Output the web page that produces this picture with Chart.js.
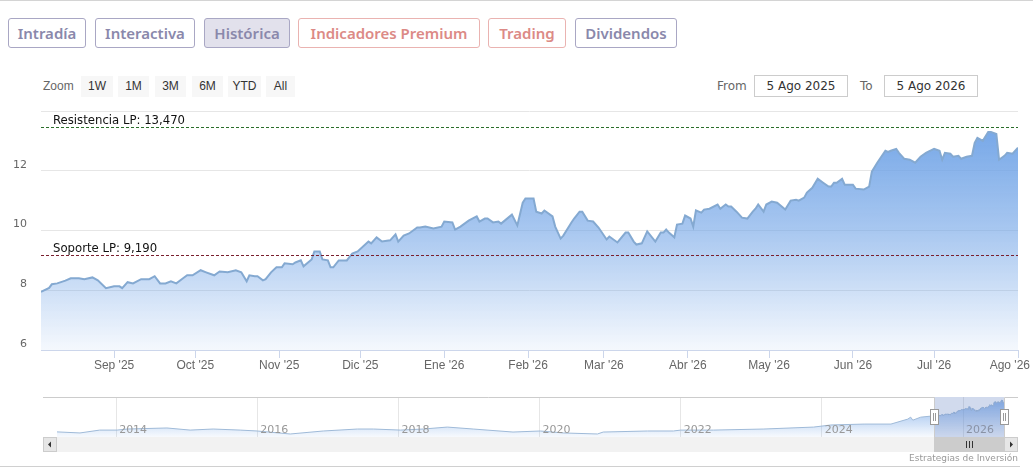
<!DOCTYPE html>
<html>
<head>
<meta charset="utf-8">
<script src="https://cdn.jsdelivr.net/npm/chart.js@4.4.1/dist/chart.umd.min.js"></script>
<style>
  html, body { margin: 0; padding: 0; background: #fff; }
  body { width: 1033px; height: 472px; position: relative; overflow: hidden; font-family: "DejaVu Sans", sans-serif; }
  .topline { position: absolute; left: 0; top: 0; width: 1033px; height: 1px; background: #d4d4d4; }
  .tab { position: absolute; top: 18px; height: 30px; box-sizing: border-box; border: 1px solid #a9a7c4; border-radius: 3px;
         font-family: "Noto Sans", sans-serif; font-weight: 600; font-size: 15px; line-height: 28px; text-align: center; color: #8a88ab; }
  .tab.red { color: #dc8a86; border-color: #eab3b1; }
  .tab.on { background: #e2e1ec; }
  .zlabel { position: absolute; left: 43px; top: 79px; font: 12px "Liberation Sans", sans-serif; color: #666; }
  .zbtn { position: absolute; top: 76px; height: 21px; background: #f7f7f7; font: 12px "Liberation Sans", sans-serif; color: #333; line-height: 21px; text-align: center; }
  .rlabel { position: absolute; top: 79px; font: 12px "DejaVu Sans", sans-serif; color: #666; }
  .rbox { position: absolute; top: 75px; width: 94px; height: 22px; box-sizing: border-box; border: 1px solid #ccc; font: 12px "DejaVu Sans", sans-serif; color: #333; line-height: 20px; text-align: center; }
  #main { position: absolute; left: 0; top: 100px; }
  #nav { position: absolute; left: 0; top: 390px; }
  .credit { position: absolute; right: 15px; top: 453px; font: 9px "DejaVu Sans", sans-serif; color: #999; }
  .bottomline { position: absolute; left: 0; top: 466px; width: 1020px; height: 1px; background: #d0d0d0; }
</style>
</head>
<body>
<div class="topline"></div>
<div class="tab" style="left:8px;width:78px">Intradía</div>
<div class="tab" style="left:95px;width:100px">Interactiva</div>
<div class="tab on" style="left:204px;width:86px">Histórica</div>
<div class="tab red" style="left:298px;width:182px">Indicadores Premium</div>
<div class="tab red" style="left:488px;width:78px">Trading</div>
<div class="tab" style="left:575px;width:102px">Dividendos</div>

<div class="zlabel">Zoom</div>
<div class="zbtn" style="left:81px;width:32px">1W</div>
<div class="zbtn" style="left:118px;width:31px">1M</div>
<div class="zbtn" style="left:155px;width:31px">3M</div>
<div class="zbtn" style="left:192px;width:31px">6M</div>
<div class="zbtn" style="left:228px;width:33px">YTD</div>
<div class="zbtn" style="left:266px;width:29px">All</div>

<div class="rlabel" style="left:717px">From</div>
<div class="rbox" style="left:754px">5 Ago 2025</div>
<div class="rlabel" style="left:860px">To</div>
<div class="rbox" style="left:884px">5 Ago 2026</div>

<canvas id="main" width="1033" height="280"></canvas>
<canvas id="nav" width="1033" height="82"></canvas>
<div class="credit">Estrategias de Inversión</div>
<div class="bottomline"></div>

<script>
// ---- datos ----
const monthNames = ['Ene', 'Feb', 'Mar', 'Abr', 'May', 'Jun', 'Jul', 'Ago', 'Sep', 'Oct', 'Nov', 'Dic'];
const xTickDates = ['2025-09-01', '2025-10-01', '2025-11-01', '2025-12-01', '2026-01-01', '2026-02-01',
                    '2026-03-01', '2026-04-01', '2026-05-01', '2026-06-01', '2026-07-01', '2026-08-01'];
const yTicks = [6, 8, 10, 12, 14];
const yLabels = ['6', '8', '10', '12', ''];
const rangeFrom = '2025-08-05';
const rangeTo = '2026-08-01';

const levelValues = [13.47, 9.19];
const levelLabels = ['Resistencia LP: 13,470', 'Soporte LP: 9,190'];

const mainDates = [
  '2025-08-05','2025-08-08','2025-08-09','2025-08-11','2025-08-14','2025-08-16','2025-08-19','2025-08-21','2025-08-24','2025-08-26',
  '2025-08-29','2025-09-01','2025-09-03','2025-09-04','2025-09-06','2025-09-08','2025-09-11','2025-09-14','2025-09-16','2025-09-18',
  '2025-09-20','2025-09-22','2025-09-24','2025-09-26','2025-09-28','2025-09-30','2025-10-03','2025-10-05','2025-10-08','2025-10-10',
  '2025-10-13','2025-10-16','2025-10-18','2025-10-20','2025-10-21','2025-10-23','2025-10-24','2025-10-26','2025-10-27','2025-10-29',
  '2025-10-31','2025-11-02','2025-11-03','2025-11-06','2025-11-07','2025-11-09','2025-11-10','2025-11-13','2025-11-14','2025-11-16',
  '2025-11-17','2025-11-19','2025-11-20','2025-11-21','2025-11-23','2025-11-26','2025-11-28','2025-11-30','2025-12-04','2025-12-05',
  '2025-12-07','2025-12-09','2025-12-12','2025-12-14','2025-12-15','2025-12-17','2025-12-19','2025-12-22','2025-12-23','2025-12-25',
  '2025-12-28','2025-12-31','2026-01-01','2026-01-04','2026-01-05','2026-01-07','2026-01-10','2026-01-13','2026-01-14','2026-01-16',
  '2026-01-17','2026-01-19','2026-01-21','2026-01-22','2026-01-26','2026-01-28','2026-01-30','2026-01-31','2026-02-03','2026-02-04',
  '2026-02-06','2026-02-07','2026-02-10','2026-02-11','2026-02-13','2026-02-14','2026-02-17','2026-02-18','2026-02-20','2026-02-21',
  '2026-02-23','2026-02-25','2026-02-27','2026-03-02','2026-03-03','2026-03-06','2026-03-09','2026-03-10','2026-03-12','2026-03-13',
  '2026-03-15','2026-03-17','2026-03-20','2026-03-22','2026-03-23','2026-03-24','2026-03-25','2026-03-27','2026-03-28','2026-03-30',
  '2026-03-31','2026-04-02','2026-04-03','2026-04-04','2026-04-06','2026-04-07','2026-04-09','2026-04-12','2026-04-13','2026-04-15',
  '2026-04-16','2026-04-17','2026-04-19','2026-04-21','2026-04-23','2026-04-25','2026-04-26','2026-04-27','2026-04-29','2026-04-30',
  '2026-05-02','2026-05-04','2026-05-07','2026-05-09','2026-05-11','2026-05-12','2026-05-14','2026-05-15','2026-05-17','2026-05-19',
  '2026-05-21','2026-05-23','2026-05-24','2026-05-25','2026-05-26','2026-05-28','2026-05-29','2026-06-01','2026-06-02','2026-06-05',
  '2026-06-07','2026-06-08','2026-06-10','2026-06-13','2026-06-14','2026-06-15','2026-06-17','2026-06-18','2026-06-20','2026-06-22',
  '2026-06-24','2026-06-26','2026-06-28','2026-07-01','2026-07-03','2026-07-04','2026-07-05','2026-07-07','2026-07-08','2026-07-10',
  '2026-07-11','2026-07-13','2026-07-15','2026-07-16','2026-07-17','2026-07-19','2026-07-21','2026-07-22','2026-07-24','2026-07-25',
  '2026-07-27','2026-07-28','2026-07-30','2026-08-01'
];
const mainValues = [
  7.95, 8.08, 8.20, 8.23, 8.32, 8.40, 8.40, 8.37, 8.43, 8.33,
  8.07, 8.13, 8.13, 8.07, 8.27, 8.23, 8.37, 8.37, 8.47, 8.23,
  8.23, 8.30, 8.23, 8.37, 8.50, 8.50, 8.67, 8.60, 8.50, 8.63,
  8.60, 8.67, 8.60, 8.30, 8.50, 8.47, 8.47, 8.33, 8.37, 8.60,
  8.77, 8.77, 8.90, 8.87, 8.93, 9.00, 8.80, 9.03, 9.30, 9.30,
  9.03, 9.00, 8.77, 8.77, 9.00, 9.00, 9.23, 9.30, 9.63, 9.57,
  9.77, 9.63, 9.67, 9.87, 9.63, 9.83, 9.90, 10.10, 10.10, 10.13,
  10.07, 10.13, 10.30, 10.27, 10.03, 10.13, 10.33, 10.47, 10.30, 10.40,
  10.40, 10.27, 10.30, 10.23, 10.53, 10.17, 10.93, 11.07, 11.07, 10.63,
  10.57, 10.67, 10.47, 10.13, 9.73, 9.83, 10.27, 10.40, 10.63, 10.63,
  10.33, 10.30, 10.10, 9.70, 9.80, 9.60, 9.93, 9.93, 9.63, 9.53,
  9.57, 9.97, 9.63, 9.93, 9.93, 10.03, 9.93, 9.77, 10.20, 10.23,
  10.50, 10.40, 10.13, 10.67, 10.60, 10.70, 10.73, 10.87, 10.73, 10.87,
  10.80, 10.80, 10.63, 10.43, 10.40, 10.63, 10.73, 10.87, 10.63, 10.87,
  10.97, 10.93, 10.70, 11.00, 11.03, 11.00, 11.10, 11.27, 11.43, 11.73,
  11.60, 11.47, 11.47, 11.60, 11.60, 11.73, 11.53, 11.53, 11.40, 11.37,
  11.47, 11.97, 12.27, 12.67, 12.63, 12.67, 12.73, 12.60, 12.40, 12.37,
  12.27, 12.47, 12.60, 12.73, 12.67, 12.37, 12.60, 12.57, 12.47, 12.50,
  12.40, 12.47, 12.50, 12.93, 13.10, 13.00, 13.30, 13.30, 13.23, 12.37,
  12.50, 12.60, 12.57, 12.77
];

// histórico para el navegador (antes del rango visible)
const histDates = [
  '2013-03-01','2013-06-28','2013-10-08','2014-01-06','2014-02-27','2014-09-21','2015-01-19','2015-05-18','2015-10-05','2016-01-01',
  '2016-06-20','2016-12-08','2017-06-03','2017-08-25','2018-01-12','2018-05-09','2018-09-11','2019-01-23','2019-08-17','2020-01-05',
  '2020-05-03','2020-10-27','2020-11-26','2021-07-13','2021-11-24','2022-01-01','2022-06-20','2023-03-07','2023-11-20','2024-02-17',
  '2024-08-07','2024-12-24','2025-03-21','2025-04-05','2025-04-16','2025-05-27','2025-07-19'
];
const histValues = [
  2.7, 2.35, 3.3, 3.3, 3.65, 4.0, 3.3, 3.65, 3.3, 3.0,
  2.0, 3.0, 3.65, 3.65, 3.3, 3.65, 4.3, 3.65, 2.65, 3.0,
  2.35, 2.0, 2.65, 3.0, 3.0, 3.3, 3.3, 3.65, 4.3, 5.0,
  5.3, 5.3, 6.95, 7.6, 6.6, 7.6, 7.95
];
const navFrom = '2013-03-01';
const navYears = [2014, 2016, 2018, 2020, 2022, 2024, 2026];

// ---- utilidades ----
function ts(s) {
  const p = s.split('-').map(Number);
  return Date.UTC(p[0], p[1] - 1, p[2]);
}
function monthLabel(v) {
  const d = new Date(v);
  return monthNames[d.getUTCMonth()] + " '" + String(d.getUTCFullYear()).slice(2);
}
function areaGradient(chart, stops) {
  const a = chart.chartArea;
  if (!a) return 'rgba(124,170,230,0.5)';
  const g = chart.ctx.createLinearGradient(0, a.top, 0, a.bottom);
  stops.forEach(s => g.addColorStop(s[0], s[1]));
  return g;
}

Chart.defaults.font.family = '"DejaVu Sans", sans-serif';
Chart.defaults.animation = false;

// ---- gráfico principal ----
const overlayPlugin = {
  id: 'overlay',
  afterDatasetsDraw(chart) {
    const ctx = chart.ctx, a = chart.chartArea, y = chart.scales.y, x = chart.scales.x;
    const colors = ['#2a6e2a', '#7a1f2e'];
    ctx.save();
    levelValues.forEach((v, i) => {
      const py = Math.round(y.getPixelForValue(v)) + 0.5;
      ctx.strokeStyle = colors[i];
      ctx.lineWidth = 1;
      ctx.setLineDash([3, 2]);
      ctx.beginPath();
      ctx.moveTo(a.left, py);
      ctx.lineTo(a.right, py);
      ctx.stroke();
      ctx.fillStyle = '#111';
      ctx.font = '11.7px "DejaVu Sans", sans-serif';
      ctx.textBaseline = 'alphabetic';
      ctx.fillText(levelLabels[i], a.left + 12, py - 4);
    });
    // etiquetas del eje x (la última se ajusta al borde como en el original)
    ctx.setLineDash([]);
    ctx.fillStyle = '#666';
    ctx.font = '12px "Liberation Sans", sans-serif';
    ctx.textBaseline = 'top';
    ctx.textAlign = 'center';
    xTickDates.forEach(d => {
      const txt = monthLabel(ts(d));
      const w = ctx.measureText(txt).width;
      let px = x.getPixelForValue(ts(d));
      px = Math.min(px, chart.width - 3 - w / 2);
      ctx.fillText(txt, px, a.bottom + 10);
    });
    ctx.restore();
  }
};

new Chart(document.getElementById('main'), {
  type: 'line',
  data: {
    datasets: [{
      data: mainDates.map((d, i) => ({ x: ts(d), y: mainValues[i] })),
      borderColor: '#84a9d1',
      borderWidth: 2,
      pointRadius: 0,
      tension: 0,
      fill: 'start',
      backgroundColor: ctx => areaGradient(ctx.chart, [
        [0, 'rgba(110,162,230,1)'], [0.5, 'rgba(110,162,230,0.6)'], [1, 'rgba(110,162,230,0.07)']
      ])
    }]
  },
  options: {
    responsive: false,
    layout: { padding: { left: 0, right: 15, top: 11, bottom: 0 } },
    plugins: { legend: { display: false }, tooltip: { enabled: false } },
    scales: {
      x: {
        type: 'linear',
        min: ts(rangeFrom),
        max: ts(rangeTo),
        afterBuildTicks: s => { s.ticks = xTickDates.map(d => ({ value: ts(d) })); },
        afterFit: s => { s.height = 30; s.paddingLeft = 0; s.paddingRight = 0; },
        grid: { drawOnChartArea: false, drawTicks: true, tickLength: 8, color: '#ccd6eb' },
        border: { color: '#ccd6eb' },
        ticks: { display: false }
      },
      y: {
        min: yTicks[0],
        max: yTicks[yTicks.length - 1],
        afterBuildTicks: s => { s.ticks = yTicks.map(v => ({ value: v })); },
        afterFit: s => { s.width = 41; s.paddingTop = 0; s.paddingBottom = 0; },
        grid: { drawTicks: false, color: c => (c.tick && c.tick.value === yTicks[0]) ? 'rgba(0,0,0,0)' : '#e6e6e6' },
        border: { display: false },
        ticks: {
          padding: 14, labelOffset: -6,
          color: '#666', font: { size: 11 },
          callback: v => yLabels[yTicks.indexOf(v)]
        }
      }
    }
  },
  plugins: [overlayPlugin]
});

// ---- navegador ----
const navPlugin = {
  id: 'navigator',
  afterDatasetsDraw(chart) {
    const ctx = chart.ctx, a = chart.chartArea, x = chart.scales.x;
    const selMin = Math.round(x.getPixelForValue(ts(rangeFrom)));
    const selMax = Math.round(x.getPixelForValue(ts(rangeTo)));
    const btn = 14;
    ctx.save();
    // etiquetas de años
    ctx.fillStyle = '#999';
    ctx.font = '11px "DejaVu Sans", sans-serif';
    ctx.textBaseline = 'alphabetic';
    navYears.forEach(yr => {
      const px = x.getPixelForValue(Date.UTC(yr, 0, 1));
      ctx.fillText(String(yr), px + 3, a.bottom - 4);
    });
    // máscara de la selección
    ctx.fillStyle = 'rgba(102,133,194,0.3)';
    ctx.fillRect(selMin, a.top, selMax - selMin, a.bottom - a.top);
    // scrollbar
    const sTop = a.bottom, sH = 15;
    ctx.fillStyle = '#f2f2f2';
    ctx.fillRect(a.left - btn, sTop, a.right - a.left + 2 * btn, sH);
    ctx.fillStyle = '#cccccc';
    ctx.fillRect(selMin, sTop, selMax - selMin, sH);
    [a.left - btn, a.right].forEach((bx, i) => {
      ctx.fillStyle = '#e6e6e6';
      ctx.fillRect(bx, sTop, btn, sH);
      ctx.strokeStyle = '#cccccc';
      ctx.lineWidth = 1;
      ctx.strokeRect(bx + 0.5, sTop + 0.5, btn - 1, sH - 1);
      const cx = bx + btn / 2, cy = sTop + sH / 2;
      ctx.fillStyle = '#333';
      ctx.beginPath();
      if (i === 0) { ctx.moveTo(cx - 2, cy); ctx.lineTo(cx + 1, cy - 3); ctx.lineTo(cx + 1, cy + 3); }
      else { ctx.moveTo(cx + 2, cy); ctx.lineTo(cx - 1, cy - 3); ctx.lineTo(cx - 1, cy + 3); }
      ctx.fill();
    });
    ctx.strokeStyle = '#333';
    ctx.lineWidth = 1;
    const rc = Math.round((selMin + selMax) / 2);
    [-3, 0, 3].forEach(o => {
      ctx.beginPath();
      ctx.moveTo(rc + o + 0.5, sTop + 4);
      ctx.lineTo(rc + o + 0.5, sTop + 11);
      ctx.stroke();
    });
    // contorno
    ctx.strokeStyle = '#cccccc';
    ctx.beginPath();
    ctx.moveTo(a.left - btn, a.top + 0.5);
    ctx.lineTo(selMin + 0.5, a.top + 0.5);
    ctx.lineTo(selMin + 0.5, a.bottom + 0.5);
    ctx.lineTo(selMax + 0.5, a.bottom + 0.5);
    ctx.lineTo(selMax + 0.5, a.top + 0.5);
    ctx.lineTo(a.right + btn, a.top + 0.5);
    ctx.stroke();
    // manijas
    const hy = Math.round((a.top + a.bottom) / 2);
    [selMin, selMax].forEach(hx => {
      ctx.fillStyle = '#fff';
      ctx.fillRect(hx - 3.5, hy - 7.5, 8, 15);
      ctx.strokeStyle = '#999';
      ctx.strokeRect(hx - 3.5, hy - 7.5, 8, 15);
      ctx.beginPath();
      ctx.moveTo(hx - 0.5, hy - 4); ctx.lineTo(hx - 0.5, hy + 4);
      ctx.moveTo(hx + 1.5, hy - 4); ctx.lineTo(hx + 1.5, hy + 4);
      ctx.stroke();
    });
    ctx.restore();
  }
};

const navDates = histDates.concat(mainDates);
const navValues = histValues.concat(mainValues);

new Chart(document.getElementById('nav'), {
  type: 'line',
  data: {
    datasets: [{
      data: navDates.map((d, i) => ({ x: ts(d), y: navValues[i] })),
      borderColor: '#9fbad8',
      borderWidth: 1,
      pointRadius: 0,
      tension: 0,
      fill: 'start',
      backgroundColor: ctx => areaGradient(ctx.chart, [
        [0, 'rgba(110,162,230,0.85)'], [1, 'rgba(110,162,230,0.05)']
      ])
    }]
  },
  options: {
    responsive: false,
    layout: { padding: { left: 57, right: 29, top: 7, bottom: 35 } },
    plugins: { legend: { display: false }, tooltip: { enabled: false } },
    scales: {
      x: {
        type: 'linear',
        min: ts(navFrom),
        max: ts(rangeTo),
        afterBuildTicks: s => { s.ticks = navYears.map(yr => ({ value: Date.UTC(yr, 0, 1) })); },
        afterFit: s => { s.height = 0; s.paddingLeft = 0; s.paddingRight = 0; },
        grid: { drawTicks: false, color: '#e6e6e6' },
        border: { display: false },
        ticks: { display: false }
      },
      y: { display: false, min: 1, max: 14.3 }
    }
  },
  plugins: [navPlugin]
});
</script>
</body>
</html>
